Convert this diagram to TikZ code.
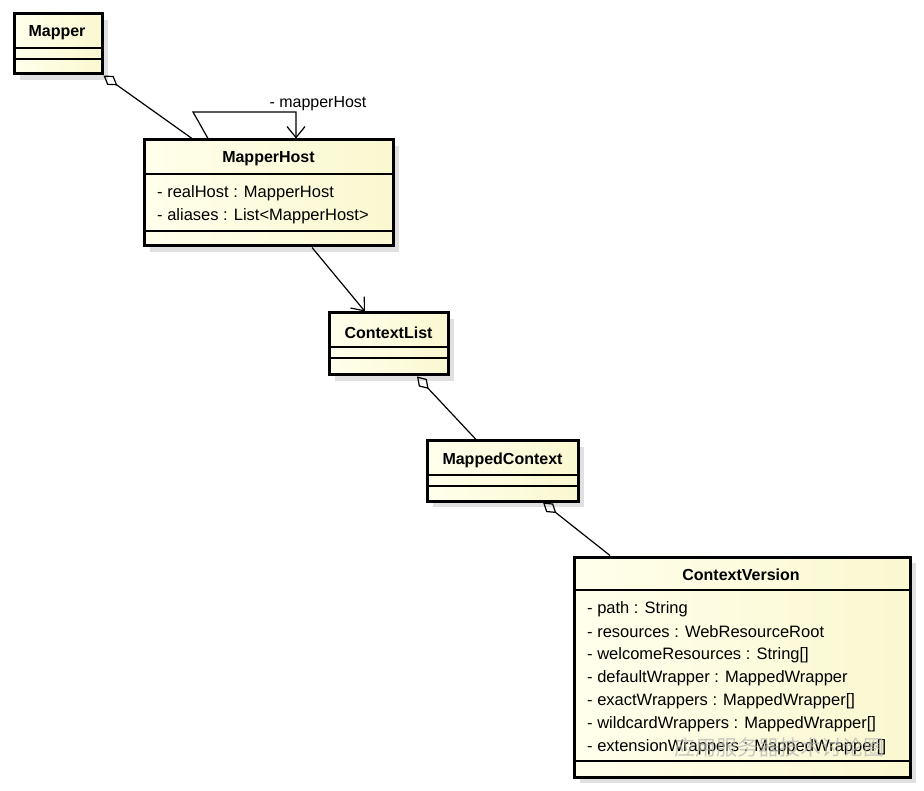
\documentclass[tikz,border=0pt]{standalone}
\usepackage{fontspec}
\setmainfont{Liberation Sans}
\newfontfamily\cjk{Noto Sans CJK SC}
\usetikzlibrary{arrows.meta,shadows}
\definecolor{classfill}{RGB}{255,255,236}
\definecolor{classfillr}{RGB}{250,248,208}

\begin{document}
\begin{tikzpicture}[x=1pt,y=-1pt]
\tikzstyle{cls}=[draw,line width=3pt,left color=classfill,right color=classfillr,
  drop shadow={shadow xshift=6pt,shadow yshift=-6pt,fill=black!12,opacity=1},inner sep=0]
\tikzstyle{title}=[font=\fontsize{16}{18}\selectfont\bfseries,inner sep=0]
\tikzstyle{attr}=[font=\fontsize{16.5}{18}\selectfont,anchor=west,inner sep=0]
\tikzstyle{sep}=[line width=1.2pt]
\tikzstyle{aggr}=[line width=1.2pt,{Diamond[open,length=17pt,width=11pt,line width=1.2pt]}-]
\tikzstyle{assoc}=[line width=1.2pt,-{Straight Barb[length=11pt,width=18pt,line width=1.2pt]}]
\useasboundingbox (0,0) rectangle (924,791);
\fill[white] (0,0) rectangle (924,791);

\node[cls,minimum width=88pt,minimum height=60pt] (mapper) at (58,44) {};
\node[title] (mapperT) at (57,33) {Mapper};
\draw[sep] (14,48) -- (102,48) (14,59) -- (102,59);

\node[cls,minimum width=249pt,minimum height=106pt] (mhost) at (268.5,193) {};
\node[title] (mhostT) at (268.5,159) {MapperHost};
\draw[sep] (144,174) -- (393,174) (144,231) -- (393,231);
\node[attr] (mhostA) at (157,193) {- realHost : MapperHost};
\node[attr] (mhostB) at (157,216) {- aliases : List<MapperHost>};

\node[cls,minimum width=119pt,minimum height=62pt] (clist) at (388.5,344) {};
\node[title] (clistT) at (388.5,333) {ContextList};
\draw[sep] (329,347) -- (448,347) (329,358) -- (448,358);

\node[cls,minimum width=151pt,minimum height=60pt] (mctx) at (502.5,471) {};
\node[title] (mctxT) at (502.5,460) {MappedContext};
\draw[sep] (427,475) -- (578,475) (427,486) -- (578,486);

\node[cls,minimum width=336pt,minimum height=220pt] (cver) at (742,667) {};
\node[title] (cverT) at (741,575) {ContextVersion};
\draw[sep] (574,590) -- (910,590) (574,761) -- (910,761);
\foreach \a [count=\i] in {- path : String,- resources : WebResourceRoot,
  {- welcomeResources : String[]},- defaultWrapper : MappedWrapper,
  {- exactWrappers : MappedWrapper[]},{- wildcardWrappers : MappedWrapper[]},
  {- extensionWrappers : MappedWrapper[]}}
  \node[attr] (cverA\i) at (587,586+23*\i) {\a};
\node[font=\cjk\fontsize{21}{23}\selectfont,text=black!30,opacity=0.7,inner sep=0] (wmark) at (779,748) {应用服务器技术讨论圈};

\draw[aggr] (mapper.south east) -- ([xshift=-76.5pt]mhost.north);
\draw[assoc] ([xshift=-60.5pt]mhost.north) -- (193,112) -| ([xshift=27.5pt]mhost.north);
\node[font=\fontsize{16}{18}\selectfont,inner sep=0] (selfL) at (318,104) {- mapperHost};
\draw[assoc] ([xshift=43.5pt]mhost.south) -- ([xshift=-23.5pt]clist.north);
\draw[aggr] ([xshift=28.5pt]clist.south) -- ([xshift=-26.5pt]mctx.north);
\draw[aggr] ([xshift=40.5pt]mctx.south) -- ([xshift=-132pt]cver.north);
\end{tikzpicture}
\end{document}
